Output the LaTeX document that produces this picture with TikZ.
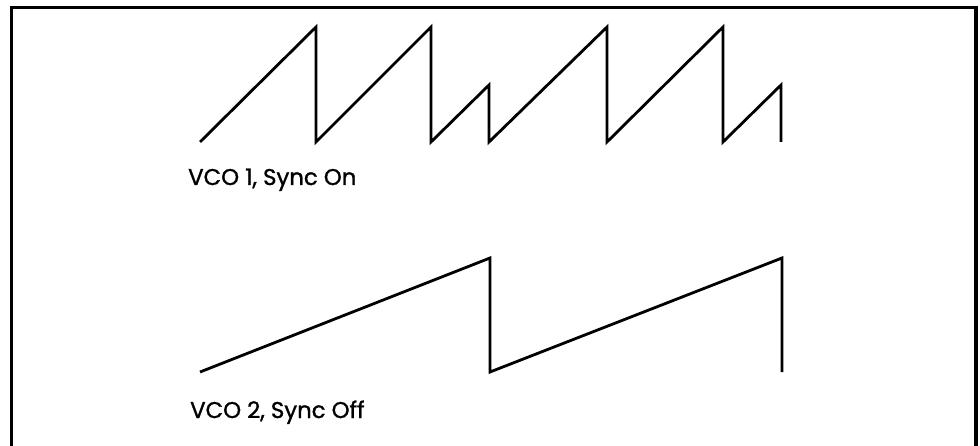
\documentclass[tikz,border=0pt]{standalone}
\usepackage{fontspec}
\setmainfont{Poppins}
\newfontfamily\capfont[FakeBold=1.2]{Poppins}
\begin{document}
\begin{tikzpicture}[x=1pt,y=-1pt,
  frame/.style={line width=3.5pt},
  wave/.style={line width=2.8pt,line join=miter,line cap=butt},
  caption/.style={anchor=base west,inner sep=0pt,font=\capfont\fontsize{22.8}{26}\selectfont}]
\useasboundingbox (0,0) rectangle (980,446);
\fill[white] (0,0) rectangle (980,446);
\draw[frame] (11.5,470) -- (11.5,7.5) -- (976,7.5) -- (976,470);
% VCO 1 (synced)
\draw[wave] (200,142) -- (316,27) -- (316,142) -- (431,27) -- (431,142)
  -- (489,85) -- (489,142) -- (607,27) -- (607,142) -- (723,27) -- (723,142)
  -- (781,85) -- (781,142);
\node[caption] (l1) at (188,185) {VCO 1, Sync On};
% VCO 2
\draw[wave] (200,372) -- (490,258) -- (490,372) -- (782,258) -- (782,372);
\node[caption] (l2) at (190,418) {VCO 2, Sync Off};
\end{tikzpicture}
\end{document}
